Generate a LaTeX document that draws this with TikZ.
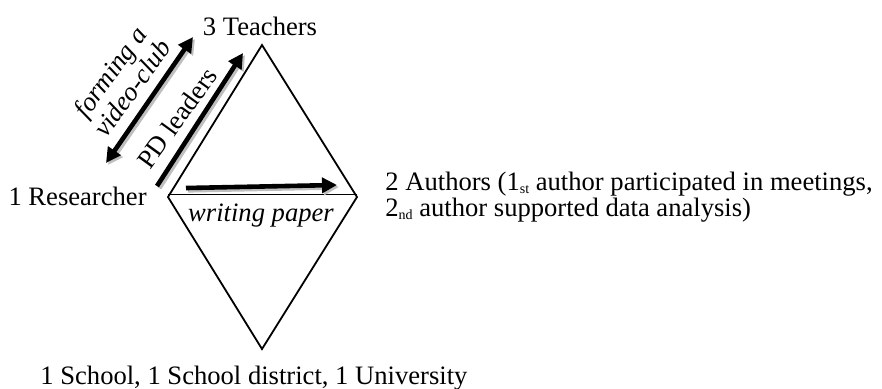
\documentclass[tikz,border=0pt]{standalone}
\usepackage{fontspec}
\setmainfont{Liberation Serif}
\usetikzlibrary{arrows.meta,positioning}
\begin{document}
\begin{tikzpicture}[x=0.5pt,y=-0.5pt,
	every node/.style={font=\fontsize{13.3}{14}\selectfont,inner sep=0pt},
	edgeline/.style={line width=0.9pt,line join=miter},
	bigarrow/.style={line width=2.3pt,
		preaction={draw=black!25,line width=2.6pt,transform canvas={shift={(1pt,-1pt)}}}},
	tip/.style={-{Triangle[length=7.5pt,width=7.5pt]}}]
	\useasboundingbox (0,0) rectangle (882,388);
	% diamond corners
	\coordinate (top) at (262,45);
	\coordinate (lft) at (168,197);
	\coordinate (rgt) at (357,197);
	\coordinate (bot) at (262,349);
	\draw[edgeline] (lft) -- (top) -- (rgt) -- (bot) -- cycle;
	\draw[edgeline] ([yshift=1.3pt]lft) -- ([yshift=1.3pt]rgt);
	% labels
	\node[anchor=base](teach)at(260,35){3 Teachers};
	\node[anchor=base east](res)at(147,205){1 Researcher};
	\node[anchor=north west,align=left,font=\fontsize{13.3}{12.8}\selectfont](auth)at(385,172){2 Authors (1\raisebox{-0.25ex}{\scriptsize st} author participated in meetings,\\
		2\raisebox{-0.25ex}{\scriptsize nd} author supported data analysis)};
	\node[anchor=base west](inst)at(40,384){1 School, 1 School district, 1 University};
	\node[anchor=base](paper)at(261,221){\itshape writing paper};
	\node[rotate=54,align=center,font=\fontsize{13.3}{13.8}\selectfont\itshape](club)at(121,80){forming a\\video-club};
	\node[rotate=54](pd)at(177,118){PD leaders};
	% arrows
	\coordinate (c1a) at (106,163);
	\coordinate (c1b) at (193,37);
	\coordinate (c2a) at (157,186);
	\coordinate (c2b) at (243,53);
	\coordinate (c3a) at (186,188);
	\coordinate (c3b) at (337,185);
	\draw[bigarrow,{Triangle[length=7.5pt,width=7.5pt]}-{Triangle[length=7.5pt,width=7.5pt]}] (c1a) -- (c1b);
	\draw[bigarrow,tip] (c2a) -- (c2b);
	\draw[bigarrow,tip] (c3a) -- (c3b);
\end{tikzpicture}
\end{document}
